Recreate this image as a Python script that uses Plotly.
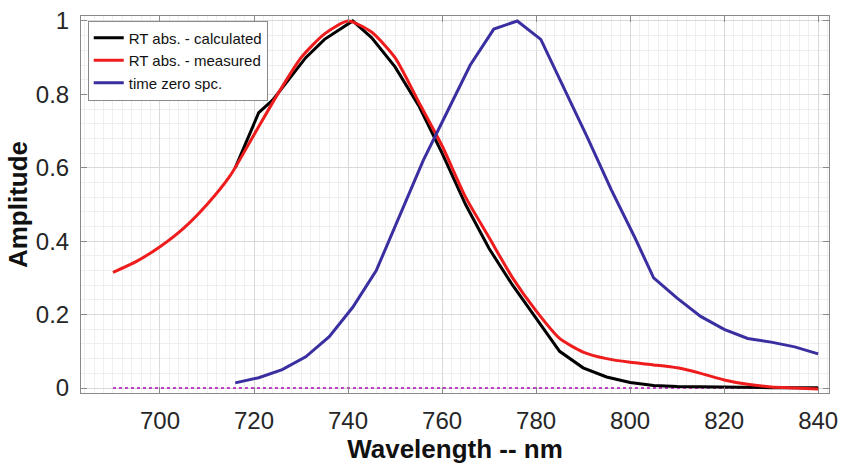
import plotly.graph_objects as go

# Measured room-temperature absorption spectrum
wl_measured = [690, 695, 700, 705, 710, 715, 720, 725, 730, 735, 740, 745, 750,
               755, 760, 765, 770, 775, 780, 785, 790, 795, 800, 805, 810, 815,
               820, 825, 830, 835, 840]
amp_measured = [0.315, 0.345, 0.385, 0.435, 0.50, 0.58, 0.69, 0.80, 0.90, 0.965,
                1.0, 0.97, 0.90, 0.78, 0.66, 0.52, 0.41, 0.30, 0.21, 0.135, 0.098,
                0.08, 0.07, 0.063, 0.055, 0.04, 0.022, 0.01, 0.003, 0.0, -0.003]

# Calculated room-temperature absorption spectrum
wl_calc = [716, 718, 721, 724, 728, 731, 735, 738, 741, 745, 750, 755, 760, 765,
           770, 775, 780, 785, 790, 795, 800, 805, 810, 820, 830, 840]
amp_calc = [0.60, 0.66, 0.75, 0.785, 0.85, 0.90, 0.95, 0.975, 1.0, 0.955, 0.875,
            0.77, 0.64, 0.50, 0.38, 0.28, 0.19, 0.10, 0.055, 0.03, 0.015, 0.007,
            0.004, 0.002, 0.001, 0.001]

# Time-zero spectrum
wl_t0 = [716, 721, 726, 731, 736, 741, 746, 751, 756, 761, 766, 771, 776, 781,
         786, 791, 796, 801, 805, 810, 815, 820, 825, 830, 835, 840]
amp_t0 = [0.014, 0.028, 0.05, 0.085, 0.14, 0.22, 0.32, 0.47, 0.62, 0.75, 0.88,
          0.978, 1.0, 0.95, 0.815, 0.68, 0.54, 0.41, 0.30, 0.245, 0.195, 0.16,
          0.135, 0.125, 0.112, 0.093]

# Zero baseline
wl_base = [690, 840]
amp_base = [0, 0]

x_ticks = [700, 720, 740, 760, 780, 800, 820, 840]
y_ticks = [0, 0.2, 0.4, 0.6, 0.8, 1]
y_tick_text = ["0", "0.2", "0.4", "0.6", "0.8", "1"]

fig = go.Figure()
fig.add_trace(go.Scatter(x=wl_base, y=amp_base, mode="lines", showlegend=False,
                         line=dict(color="#c040c0", width=2, dash="dot")))
fig.add_trace(go.Scatter(x=wl_calc, y=amp_calc, mode="lines",
                         name="RT abs. - calculated",
                         line=dict(color="#000000", width=3)))
fig.add_trace(go.Scatter(x=wl_measured, y=amp_measured, mode="lines",
                         name="RT abs. - measured", line_shape="spline",
                         line=dict(color="#ee1c1c", width=3, smoothing=0.6)))
fig.add_trace(go.Scatter(x=wl_t0, y=amp_t0, mode="lines",
                         name="time zero spc.",
                         line=dict(color="#3a2fa0", width=3)))

axis_common = dict(
    showline=True, linecolor="#8a8a8a", linewidth=1, mirror="ticks",
    ticks="inside", ticklen=6, tickcolor="#8a8a8a", automargin=False,
    showgrid=True, gridcolor="#d9d9d9", gridwidth=1, zeroline=False,
    tickfont=dict(family="Liberation Sans, Arial", size=24, color="#262626"),
)

fig.update_layout(
    width=842, height=464,
    margin=dict(l=81, r=13, t=16, b=71),
    paper_bgcolor="white", plot_bgcolor="white",
    xaxis=dict(range=[683.2, 842.3], tickvals=x_ticks, ticklabelstandoff=6,
               minor=dict(dtick=2, tick0=700, showgrid=True, gridcolor="#efefef", ticks=""),
               title=dict(text="<b>Wavelength -- nm</b>", standoff=2,
                          font=dict(family="Liberation Sans, Arial", size=26, color="#111111")),
               **axis_common),
    yaxis=dict(range=[-0.0136, 1.0136], tickvals=y_ticks, ticktext=y_tick_text,
               ticklabelstandoff=6,
               minor=dict(dtick=0.04, tick0=0, showgrid=True, gridcolor="#efefef", ticks=""),
               title=dict(text="<b>Amplitude</b>", standoff=0,
                          font=dict(family="Liberation Sans, Arial", size=26, color="#111111")),
               **axis_common),
    legend=dict(x=0.009, y=0.988, xanchor="left", yanchor="top",
                bgcolor="white", bordercolor="#8a8a8a", borderwidth=1,
                font=dict(family="Liberation Sans, Arial", size=15, color="#111111"),
                itemwidth=30, tracegroupgap=0),
)

fig.write_html("out.html")
